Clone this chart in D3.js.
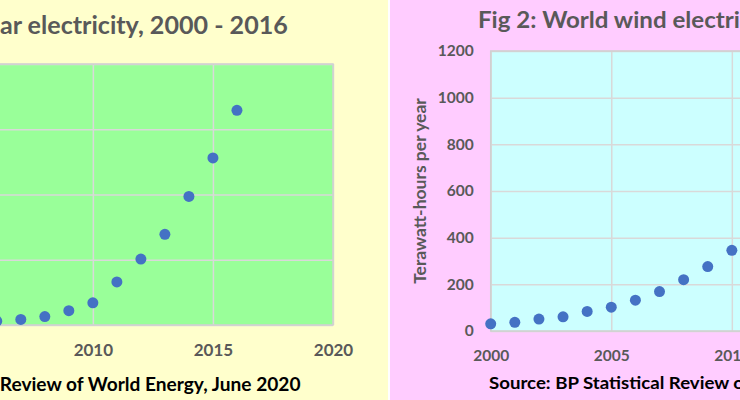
<!DOCTYPE html>
<html>
<head>
<meta charset="utf-8">
<script src="https://cdn.jsdelivr.net/npm/d3@7"></script>
<style>
  body { margin: 0; background: #fff; }
  svg { display: block; font-family: Lato, "Open Sans", sans-serif; font-weight: bold; }
</style>
</head>
<body>
<svg id="chart" width="740" height="400"></svg>
<script>
// years shared by both charts
var years = [2000, 2001, 2002, 2003, 2004, 2005, 2006, 2007, 2008,
             2009, 2010, 2011, 2012, 2013, 2014, 2015, 2016];

// solar electricity, TWh per year
var solarValues = [1, 1.6, 2.1, 3, 4, 4.7, 6, 8.5, 13, 22, 34, 66, 101, 139, 197, 256, 329];

// wind electricity, TWh per year
var windValues = [31, 37, 51, 61, 84, 102, 132, 169, 220, 276, 346, 437, 523, 646, 712, 831, 962];

var xTicks = [2000, 2005, 2010, 2015, 2020];
var solarTicks = [0, 100, 200, 300, 400];
var windTicks = [0, 200, 400, 600, 800, 1000, 1200];

var source = "Source: BP Statistical Review of World Energy, June 2020";

var svg = d3.select("#chart");

/**
 * put a text so that the part "piece" of it spans x0..x1 (stretched a bit if needed)
 */
function fitText(g, str, piece, x0, x1, y, size, color) {
    var wrap = g.append("g");
    var t = wrap.append("text")
        .attr("x", 0)
        .attr("y", 0)
        .attr("fill", color)
        .style("font-size", size + "px")
        .text(str);
    var i = str.indexOf(piece);
    var before = i > 0 ? t.node().getSubStringLength(0, i) : 0;
    var w = t.node().getSubStringLength(i, piece.length);
    var sx = (x1 - x0) / w;
    wrap.attr("transform", "translate(" + (x0 - before * sx) + "," + y + ") scale(" + sx + ",1)");
}

/**
 * one panel: background, plot area, grid, dots, texts
 */
function panel(opt) {
    var g = svg.append("g");

    g.append("rect")
        .attr("x", opt.bgX)
        .attr("y", 0)
        .attr("width", opt.bgW)
        .attr("height", 400)
        .attr("fill", opt.bg);

    var x = d3.scaleLinear().domain([2000, 2020]).range(opt.xRange);
    var y = d3.scaleLinear().domain([0, opt.yMax]).range(opt.yRange);

    var top = opt.yRange[1], bottom = opt.yRange[0];
    var left = opt.xRange[0], right = opt.xRange[1];

    g.append("rect")
        .attr("x", left)
        .attr("y", top)
        .attr("width", right - left)
        .attr("height", bottom - top)
        .attr("fill", opt.plot);

    // gridlines + tick labels
    var xAxis = g.append("g")
        .attr("transform", "translate(0," + bottom + ")")
        .call(d3.axisBottom(x).tickValues(xTicks).tickFormat(d3.format("d"))
            .tickSizeInner(-(bottom - top)).tickSizeOuter(0).tickPadding(19));

    var yAxis = g.append("g")
        .attr("transform", "translate(" + left + ",0)")
        .call(d3.axisLeft(y).tickValues(opt.yTicks).tickFormat(d3.format("d"))
            .tickSizeInner(-(right - left)).tickSizeOuter(0).tickPadding(17));

    [xAxis, yAxis].forEach(function (a) {
        a.select(".domain").remove();
        a.selectAll("line").attr("stroke", "#d9d9d9").attr("stroke-width", 1.5);
        a.selectAll("text")
            .attr("fill", "#595959")
            .style("font-size", opt.tickSize + "px")
            .style("font-family", "Lato, 'Open Sans', sans-serif")
            .style("font-weight", "bold");
    });

    // plot border
    g.append("rect")
        .attr("x", left)
        .attr("y", top)
        .attr("width", right - left)
        .attr("height", bottom - top)
        .attr("fill", "none")
        .attr("stroke", "#d0d0d0")
        .attr("stroke-width", 1.5);

    g.selectAll(".dot")
        .data(opt.values)
        .enter().append("circle")
        .attr("class", "dot")
        .attr("cx", function (d, i) { return x(years[i]); })
        .attr("cy", function (d) { return y(d); })
        .attr("r", 5.5)
        .attr("fill", "#4472c4");

    var tt = opt.titleFit;
    fitText(g, opt.title, tt[0], tt[1], tt[2], opt.titleY, opt.titleSize, "#595959");
    var sf = opt.sourceFit;
    fitText(g, source, sf[0], sf[1], sf[2], opt.sourceY, opt.sourceSize, "#000");

    g.append("text")
        .attr("transform", "translate(" + opt.yLabelX + "," + opt.yLabelY + ") rotate(-90)")
        .attr("text-anchor", "middle")
        .attr("fill", "#595959")
        .style("font-size", "17.5px")
        .text("Terawatt-hours per year");
}

panel({
    bgX: -260, bgW: 648, bg: "#ffffcc", plot: "#99ff99",
    xRange: [-147.3, 333], yRange: [325, 64], yMax: 400, yTicks: solarTicks,
    values: solarValues, tickSize: 17,
    title: "Fig 1: World solar electricity, 2000 - 2016", titleY: 34, titleSize: 24,
    titleFit: ["ar electricity, 2000 - 2016", 0, 288],
    sourceY: 391, sourceSize: 18.5,
    sourceFit: ["Review of World Energy, June 2020", 0, 301],
    yLabelX: -194, yLabelY: 191
});

panel({
    bgX: 390, bgW: 360, bg: "#ffccff", plot: "#ccffff",
    xRange: [490.7, 973], yRange: [331, 51], yMax: 1200, yTicks: windTicks,
    values: windValues, tickSize: 15.5,
    title: "Fig 2: World wind electricity, 2000 - 2016", titleY: 28, titleSize: 22,
    titleFit: ["Fig 2: World wind electri", 478, 740],
    sourceY: 389, sourceSize: 17,
    sourceFit: ["Source: BP Statistical Review o", 489, 744],
    yLabelX: 426, yLabelY: 191
});
</script>
</body>
</html>
